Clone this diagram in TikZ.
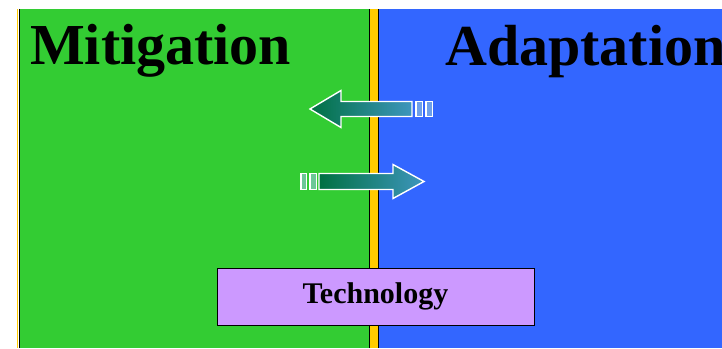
\documentclass[tikz,border=0pt]{standalone}
\usepackage{fontspec}
\setmainfont{Liberation Serif}
\definecolor{mitigation green}{RGB}{51,204,51}
\definecolor{adaptation blue}{RGB}{51,102,255}
\definecolor{divider orange}{RGB}{255,204,0}
\definecolor{technology purple}{RGB}{204,153,255}
\definecolor{arrow dark}{RGB}{0,112,66}
\definecolor{arrow light}{RGB}{62,150,190}
\def\leftflow{(310,239) -- (341,257.5) -- (341,246.5) -- (412,246.5) -- (412,231.5) -- (341,231.5) -- (341,220.5) -- cycle}
\def\rightflow{(424,166.5) -- (393,183.5) -- (393,174.5) -- (319,174.5) -- (319,158.5) -- (393,158.5) -- (393,149.5) -- cycle}
\tikzset{title/.style={font=\fontsize{58}{60}\selectfont\bfseries, inner sep=0pt, anchor=base west},
    flow/.style={draw=white, line width=1.4pt},
    stub/.style={draw=white, line width=1.2pt, fill=arrow light!55!white, fill opacity=0.6},
    techbox/.style={draw=black, fill=technology purple, line width=0.8pt,
        minimum width=317pt, minimum height=57pt, inner sep=0pt,
        font=\fontsize{30}{32}\selectfont\bfseries}}

\begin{document}
\begin{tikzpicture}[x=1pt,y=1pt]
    \useasboundingbox (0,0) rectangle (722,348);
    \clip (0,0) rectangle (722,348);
    % panels
    \fill[mitigation green] (19,0) rectangle (369,339);
    \fill[adaptation blue]  (379,0) rectangle (722,339);
    \fill[divider orange]   (370,0) rectangle (378,339);
    \draw[black, line width=1.5pt] (369.5,0) -- (369.5,339);
    \draw[black, line width=1.5pt] (378.5,0) -- (378.5,339);
    \draw[black, line width=1.2pt] (19.2,0) -- (19.2,339);
    \draw[divider orange, line width=1.4pt] (17.4,0) -- (17.4,339);
    \node[title] (mitigation) at (30,283) {Mitigation};
    \node[title] (adaptation) at (445,282) {Adaptation};
    % arrows
    \shade[left color=arrow dark, right color=arrow light] \leftflow;
    \draw[flow] \leftflow;
    \draw[stub] (416,231.5) rectangle (422.5,246.5);
    \draw[stub] (426,231.5) rectangle (432.5,246.5);
    \shade[left color=arrow dark, right color=arrow light] \rightflow;
    \draw[flow] \rightflow;
    \draw[stub] (301,158.5) rectangle (306.5,174.5);
    \draw[stub] (310,158.5) rectangle (316.5,174.5);
    \node[techbox] (technology) at (375.5,51.5) {Technology};
\end{tikzpicture}
\end{document}
